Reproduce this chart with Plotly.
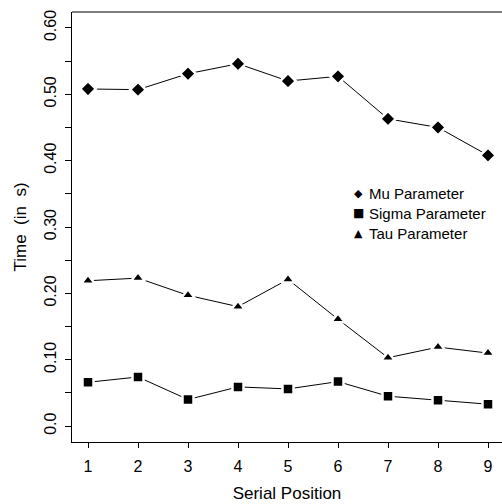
import plotly.graph_objects as go

positions = [1, 2, 3, 4, 5, 6, 7, 8, 9]
mu = [0.508, 0.507, 0.531, 0.546, 0.520, 0.527, 0.463, 0.450, 0.408]
sigma = [0.066, 0.074, 0.040, 0.059, 0.056, 0.067, 0.045, 0.039, 0.033]
tau = [0.219, 0.223, 0.197, 0.180, 0.221, 0.161, 0.103, 0.119, 0.110]
series_names = ["Mu Parameter", "Sigma Parameter", "Tau Parameter"]
legend_glyphs = ["\u25c6", "\u25a0", "\u25b2"]
ytick_vals = [0.0, 0.05, 0.10, 0.15, 0.20, 0.25, 0.30, 0.35, 0.40, 0.45, 0.50, 0.55, 0.60]
ytick_text = ["0.0", "", "0.10", "", "0.20", "", "0.30", "", "0.40", "", "0.50", "", "0.60"]

FONT = "Liberation Sans, Arial, Helvetica, sans-serif"

fig = go.Figure()
symbols = ["diamond", "square", "triangle-up"]
sizes = [12, 11, 12]
for name, vals, sym, sz in zip(series_names, [mu, sigma, tau], symbols, sizes):
    fig.add_trace(go.Scatter(
        x=positions, y=vals, name=name, mode="lines+markers", showlegend=False,
        line=dict(color="black", width=1),
        marker=dict(symbol=sym, size=sz, color="black",
                    line=dict(color="white", width=2.5)),
    ))

# legend drawn as text (glyph + label), rows 19.5px apart
row_y = [0.577, 0.532, 0.486]
glyph_sizes = [11, 12, 11]
for name, glyph, gy, gs in zip(series_names, legend_glyphs, row_y, glyph_sizes):
    fig.add_annotation(text=glyph, xref="paper", yref="paper", x=0.667, y=gy,
                       xanchor="center", yanchor="middle", showarrow=False,
                       font=dict(family="DejaVu Sans", size=gs, color="black"))
    fig.add_annotation(text=name, xref="paper", yref="paper", x=0.686, y=gy,
                       xanchor="left", yanchor="middle", showarrow=False,
                       font=dict(family=FONT, size=15, color="black"))

fig.update_layout(
    width=502, height=504,
    margin=dict(l=72, r=0, t=12, b=62),
    paper_bgcolor="white", plot_bgcolor="white",
    font=dict(family=FONT, color="black", size=15),
    showlegend=False,
)
fig.update_xaxes(
    range=[0.68, 9.28], tickvals=positions, ticktext=[str(p) for p in positions],
    automargin=False,
    showgrid=False, zeroline=False, showline=True, linecolor="black", linewidth=1,
    ticks="outside", ticklen=5, tickcolor="black", ticklabelstandoff=5,
    title=dict(text="Serial Position", font=dict(size=17), standoff=12),
    tickfont=dict(size=16),
)
fig.update_yaxes(
    range=[-0.024, 0.624], tickvals=ytick_vals, ticktext=ytick_text,
    tickangle=-90, automargin=False,
    showgrid=False, zeroline=False, showline=True, linecolor="black", linewidth=1,
    ticks="outside", ticklen=6, tickcolor="black", ticklabelstandoff=3,
    title=dict(text="Time\u00a0\u00a0(in\u00a0 s)", font=dict(size=17), standoff=10),
    tickfont=dict(size=16),
)
# top border line
fig.add_shape(type="line", xref="paper", yref="paper", x0=0, x1=1, y0=1, y1=1,
              line=dict(color="black", width=1))

fig.write_html("out.html", config={"displayModeBar": False})
with open("out.html", encoding="utf-8") as f:
    html = f.read()
html = html.replace("<head>", "<head><style>html,body{margin:0;padding:0;overflow:hidden}</style>", 1)
with open("out.html", "w", encoding="utf-8") as f:
    f.write(html)
